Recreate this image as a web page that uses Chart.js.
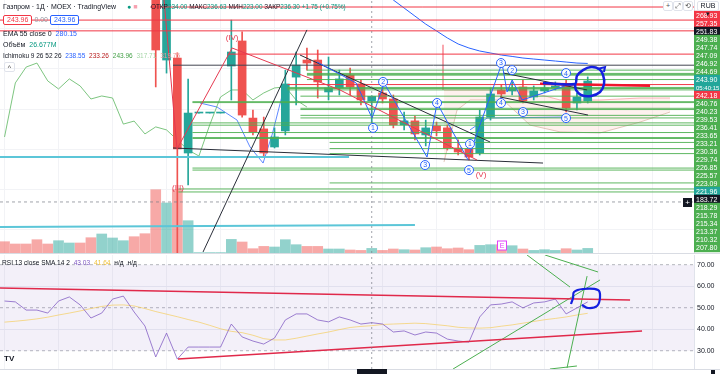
<!DOCTYPE html>
<html lang="ru">
<head>
<meta charset="utf-8">
<title>Газпром 1Д</title>
<script src="https://cdn.jsdelivr.net/npm/chart.js@4.4.1/dist/chart.umd.min.js"></script>
<style>
html,body{margin:0;padding:0;background:#fff;}
#wrap{position:relative;width:720px;height:374px;overflow:hidden;font-family:"Liberation Sans",Arial,sans-serif;color:#131722;}
canvas{position:absolute;left:0;}
#priceCanvas{top:0;}
#rsiCanvas{top:255px;}
#sep{position:absolute;left:0;top:253px;width:720px;height:1px;background:#d9dce3;}
#bottomLine{position:absolute;left:0;top:369px;width:720px;height:1px;background:#d9dce3;}
.row{position:absolute;left:3px;font-size:7px;line-height:9px;white-space:nowrap;}
.row b{font-weight:normal;margin-left:2px;}
.box{display:inline-block;border:1px solid;border-radius:2px;padding:0 3px;line-height:8px;background:#fff;}
.tool{position:absolute;top:1px;height:8px;font-size:7px;line-height:8px;color:#555;border:1px solid #e0e3eb;border-radius:2px;background:#fff;text-align:center;}
</style>
</head>
<body>
<div id="wrap">
  <canvas id="priceCanvas" width="720" height="253"></canvas>
  <div id="sep"></div>
  <canvas id="rsiCanvas" width="720" height="119"></canvas>
  <div id="bottomLine"></div>

  <div class="row" style="top:2px">Газпром · 1Д · MOEX · TradingView</div>
  <div class="row" style="top:2px;left:127px"><span style="color:#089981">●</span> <span style="color:#f7a1b0">■</span></div>
  <div class="row" style="top:2px;left:151px;font-size:6.4px">ОТКР<span style="color:#089981">234.00</span> МАКС<span style="color:#089981">236.63</span> МИН<span style="color:#089981">223.00</span> ЗАКР<span style="color:#089981">236.30 +1.75 (+0.75%)</span></div>
  <div class="row" style="top:15px"><span class="box" style="border-color:#f23645;color:#f23645">243.96</span> <span style="color:#9598a1">0.00</span> <span class="box" style="border-color:#2962ff;color:#2962ff">243.96</span></div>
  <div class="row" style="top:29px">EMA 55 close 0 <b style="color:#2962ff">280.15</b></div>
  <div class="row" style="top:40px">Объём <b style="color:#089981">26.677M</b></div>
  <div class="row" style="top:51px;font-size:6.5px">Ichimoku 9 26 52 26 <b style="color:#2962ff">238.55</b> <b style="color:#b71c1c">233.26</b> <b style="color:#43a047">243.96</b> <b style="color:#a5d6a7">317.71</b> <b style="color:#ef9a9a">319.75</b></div>
  <div class="row" style="top:62px;left:4px;border:1px solid #e0e3eb;border-radius:2px;width:9px;height:8px;line-height:9px;text-align:center;color:#333;">^</div>
  <div class="row" style="top:258px;left:2px;font-size:6.6px">RSI 13 close SMA 14 2 <b style="color:#7e57c2">43.03</b> <b style="color:#f0c23b">41.64</b> <b>н/д</b> <b>н/д</b></div>

  <div class="tool" style="left:663px;width:8px">+</div>
  <div class="tool" style="left:673px;width:8px">⤢</div>
  <div class="tool" style="left:683px;width:8px">⟲</div>
  <div class="tool" style="left:697px;width:20px;color:#131722">RUB ▾</div>
  <div style="position:absolute;left:683px;top:198px;width:9px;height:9px;background:#131722;color:#fff;font-size:8px;line-height:9px;text-align:center;">+</div>
  <div style="position:absolute;left:357px;top:369px;width:30px;height:6px;background:#131722;"></div>
  <div style="position:absolute;left:711px;top:370px;width:4px;height:4px;background:#131722;"></div>
  <div style="position:absolute;left:4px;top:354px;font:bold 8px 'Liberation Sans',Arial;color:#131722;">TV</div>
</div>
<script>
// ---- Газпром, 1Д, MOEX: свечи ----
const opens  = [338,332,327,323,314,310,320,325,317,305, 316,322,327,312,299,254.4,255.4,208.1,228,228,
                228,251.4,263.9,225.5,220.1,211.1,219.1,245.9,254.4,254.4, 238.5,240.5,246.9,242.5,234.0,238.0,235.0,222.1,224.1,217.1,
                221.6,220.6,210.6,210.1,208.1,226.0,239.5,239.0,241.0,236.0, 239.0,240.5,241.5,233.0,234.0];
const highs  = [340,334,330,325,318,322,327,326,319,318, 324,330,328,314,301,300,258.0,244.96,228,228,
                228,274.3,268.4,229.5,226.0,220.6,249.4,258.4,260.4,259.4, 255.9,249.4,250.4,244.5,236.63,240.5,237.0,228.5,226.5,224.5,
                223.5,222.1,214.6,213.1,229.5,240.5,242.0,243.5,244.5,241.5, 242.0,243.5,244.5,238.0,246.0];
const lows   = [330,325,321,312,308,309,318,315,303,300, 314,318,310,296,241.0,247.9,135.5,192.2,228,228,
                228,234.5,226.0,217.1,206.1,210.6,217.1,232.0,249.4,235.5, 234.5,237.0,237.0,232.0,223.0,233.0,220.6,219.6,214.6,211.6,
                216.6,209.6,207.1,204.6,207.1,224.5,236.0,237.0,233.0,234.5, 238.0,239.5,228.5,229.5,233.0];
const closes = [332,327,323,314,310,320,325,317,305,316, 322,327,312,299,259.4,289,210.1,228.0,228,228,
                228,258.4,227.0,218.6,208.1,216.1,242.5,251.9,252.9,243.5, 240.5,245.0,241.0,234.55,236.3,235.0,222.1,224.1,217.6,220.6,
                219.1,210.6,208.6,206.1,226.0,237.5,237.5,240.5,234.0,239.0, 240.5,241.5,230.5,236.0,243.96];
// объём, млн
const volumes = [65.5,52.2,52.2,77.1,52.2,71.3,58,58,88.7,110.2, 87,71.3,94.5,111.9,367,290,367,187.3,2.5,2.5,
                 2.5,78.9,63.8,24.9,38.3,34.8,77.1,48.1,38.3,38.3, 23.2,23.2,17.4,15.1,26.68,15.1,23.2,19.1,17.4,30.7,
                 34.8,24.9,29,19.1,44.1,48.1,48.1,42.3,23.2,15.1, 19.1,15.1,24.9,17.4,26.7];
// RSI 13 и его SMA 14
const rsiValues = [53.1,52.7,48.9,48.9,47.5,53.1,55.0,51.3,45.2,47.5, 54.0,55.4,48.0,41.5,27.1,38.2,26.1,31.7,31.7,31.7,
                   31.7,42.4,36.4,34.5,33.1,35.9,44.3,47.1,47.1,44.3, 43.4,45.7,44.3,42.4,43.03,42.4,38.7,39.2,37.3,38.7,
                   38.2,35.4,34.5,34.0,45.7,51.3,51.7,52.7,49.9,52.2, 52.7,54.0,47.1,49.9,52.7];
const rsiSma = [43.3,43.7,44.2,44.8,45.6,46.6,47.5,48.5,49.6,50.6, 51.2,51.3,50.8,49.6,48.2,47.0,45.8,44.5,43.3,41.8,
                40.2,39.0,38.4,37.2,35.6,35.0,35.0,35.8,36.8,37.8, 38.7,39.8,40.8,41.3,41.64,42.2,42.4,42.6,42.8,42.6,
                42.1,41.6,40.9,40.6,40.5,40.7,41.4,42.0,42.8,43.6, 44.4,45.0,45.7,46.6,47.4];
// Ichimoku: запаздывающая линия (бары 0..28), EMA 55 (бары 35..54)
const chikou = [216.1,243.0,250.9,252.9,244.0,240.0,245.0,241.5,235.0,236.5, 235.5,222.5,224.0,217.6,221.1,219.6,214.6,209.6,206.6,222.1,
                236.0,239.5,239.5,234.5,238.0,240.5,241.0,234.5,231.0];
const emaFrom = 35;
const ema55 = [288.3,284.3,280.3,276.3,272.3,268.9,265.4,262.4,260.4,258.9, 257.9,256.9,256.2,255.4,254.9,254.4,253.9,253.4,252.9,252.7];
const tenkanA = [[18.1,233.0],[19.68,231.0],[21.53,224.5],[22.73,211.1],[23.94,203.1],[24.77,217.1],[25.79,238.5]];
const tenkanB = [[43.1,219.6],[44.68,225.5],[51.71,226.0]];
const cloudX = [40.69,41.9,43.1,46.16,48.66,51.44,55.14,58.84,61.62];
const leadB  = [239.5,239.5,239.5,239.5,238.5,234.5,234.5,235.5,235.5];
const leadA  = [203.6,229.5,234.5,234.5,222.0,218.6,218.1,223.5,228.5];

// ---- шкала справа ----
const priceLabels = ['268.93','257.35','251.83','249.38','247.74','247.09','246.92','244.69','243.90','05:40:15',
                     '242.18','240.76','240.23','239.53','236.41','233.65','233.21','230.36','229.74','226.85',
                     '225.57','223.09','221.96','183.72','218.29','215.78','215.34','213.37','210.32','207.80'];
const priceLabelKind = ['r','r','d','g','g','g','g','g','t','t', 'r','g','g','g','g','g','g','g','g','g', 'g','g','t','d','g','g','g','g','g','g'];
const rsiTicks = [70,60,50,40,30];

// ---- разметка: уровни [цена, от бара], линии [[бар, цена], ...] ----
const greenLevels = [[249.38,28],[247.74,28],[247.09,28],[246.92,28],[244.69,28],[240.76,26.2],[240.23,26.2],[239.53,26.2],
                     [236.41,27.4],[233.65,17.4],[233.21,17.4],[230.36,27.4],[229.74,27.4],[226.85,27.4],[225.57,27.4],
                     [223.09,17.4],[221.96,17.4],[218.29,17.4],[215.78,17.4],[215.34,17.4],[213.37,30.1],[210.32,30.1],
                     [207.80,30.1],[200.6,17.4],[199.6,17.4],[193.2,30.1],[190.2,16.1],[188.7,16.1]];
const redLevels = [[280.8,13.5],[274.3,-0.42],[268.93,-0.42],[257.35,20.7],[242.18,26.2]];
const darkLevels = [[251.83,15.6]];
const cyanLines = [[[-0.42,206.1],[31.9,206.1]], [[-0.42,171.3],[38.0,172.3]]];
const blackLines = [[[18.38,158.8],[28.0,269.4]], [[15.6,210.6],[49.86,203.1]], [[27.36,256.9],[44.95,213.6]],
                    [[46.16,247.95],[53.94,239.5]], [[45.88,236.0],[54.03,227.0]]];
const waveRed = [[14.77,284.3],[15.97,210.1],[21.07,260.4],[31.06,239.5],[43.75,204.6]];
const waveBlue1 = [[28.94,253.4],[32.55,243.0],[34.03,225.5],[35.14,243.0],[39.12,206.1],[40.05,233.0],[42.92,204.6]];
const waveBlue2 = [[43.1,208.1],[46.06,252.9],[46.53,238.5],[47.0,244.5],[47.92,234.5],[51.9,241.5]];
const handRed = [[49.58,242.6],[59.77,241.6]];
const handCircle = [[49.86,243.0],[52.82,242.5],[53.0,246.5],[53.56,249.4],[54.31,250.9],[55.05,249.9],[55.42,246.95],
                    [55.51,242.5],[55.14,238.5],[54.31,236.5],[53.38,237.0],[52.91,239.5],[52.82,242.5]];
const handArrow = [[54.9,249.9],[55.6,250.9],[55.5,248.4]];
const waveCircles = [[34.12,220.6,'1'],[35.05,243.5,'2'],[38.94,202.1,'3'],[40.05,233.0,'4'],[43.01,199.6,'5'],
                     [43.1,212.6,'1'],[45.97,252.9,'3'],[47.0,249.4,'2'],[45.97,233.0,'4'],[48.01,228.5,'3'],
                     [51.99,247.9,'4'],[51.99,225.5,'5']];
const waveRoman = [[16.06,190.7,'(III)'],[21.07,265.4,'(IV)'],[44.12,197.2,'(V)']];
const eventMarks = [[46.06,'E']];
const crossBar = 34, crossPrice = 183.72;

const rsiRedLines = [[[-0.42,59.16],[57.92,53.58]], [[16.06,26.14],[59.03,39.16]]];
const rsiGreenLines = [[[41.53,21.5],[55.14,62.9]], [[52.08,21.95],[53.94,64.7]], [[50.5,21.5],[53.0,22.9]],
                       [[48.38,74.5],[52.36,59.6]], [[50.05,74.5],[54.95,66.6]]];
const rsiCircle = [[52.45,51.72],[52.64,54.51],[52.73,57.3],[53.56,58.7],[54.95,58.23],[55.14,54.98],[54.86,50.79],
                   [54.03,49.86],[53.47,51.26]];

// ---- оформление ----
const xMin = -0.42, xMax = 63.84;
const teal = '#26a69a', red = '#ef5350';
const font = 'Liberation Sans';
const labelBg = {r:'#f23645', g:'#4caf50', d:'#131722', t:'#22a69a'};

const idx = opens.map(function(o, i){ return i; });
const isUp = idx.map(function(i){ return closes[i] >= opens[i]; });

function pts(arr){ return arr.map(function(p){ return {x:p[0], y:p[1]}; }); }
function lineDs(data, color, width, extra){
    return Object.assign({type:'line', data:data, borderColor:color, borderWidth:width, pointRadius:0,
        tension:0, fill:false, yAxisID:'price', order:8}, extra || {});
}

var priceSets = [];
priceSets.push({type:'bar', data: idx.map(function(i){ return {x:i, y:[opens[i], closes[i]]}; }),
    backgroundColor: idx.map(function(i){ return isUp[i] ? teal : red; }),
    barThickness: 8, minBarLength: 1, grouped:false, yAxisID:'price', order:11, clip:0});
priceSets.push({type:'bar', data: idx.map(function(i){ return {x:i, y:[lows[i], highs[i]]}; }),
    backgroundColor: idx.map(function(i){ return isUp[i] ? teal : red; }),
    barThickness: 1, grouped:false, yAxisID:'price', order:12, clip:0});
priceSets.push({type:'bar', data: idx.map(function(i){ return {x:i, y:volumes[i]}; }),
    backgroundColor: idx.map(function(i){ return isUp[i] ? 'rgba(38,166,154,0.5)' : 'rgba(239,83,80,0.5)'; }),
    barThickness: 10, grouped:false, yAxisID:'vol', order:50});

// облако Ichimoku
priceSets.push(lineDs(cloudX.map(function(x, i){ return {x:x, y:leadB[i]}; }), 'rgba(242,54,69,0.35)', 1,
    {order:45, fill:'+1', backgroundColor:'rgba(242,120,90,0.10)'}));
priceSets.push(lineDs(cloudX.map(function(x, i){ return {x:x, y:leadA[i]}; }), 'rgba(180,120,90,0.4)', 1, {order:46}));
priceSets.push(lineDs(pts([[40.6,262.0],[40.6,239.5]]), 'rgba(242,54,69,0.35)', 1, {order:46}));
priceSets.push(lineDs(chikou.map(function(v, i){ return {x:i, y:v}; }), 'rgba(102,187,106,0.85)', 1, {order:40}));
priceSets.push(lineDs(ema55.map(function(v, i){ return {x:emaFrom + i, y:v}; }), '#2962ff', 1, {order:40}));
priceSets.push(lineDs(pts(tenkanA), 'rgba(41,98,255,0.75)', 1, {order:40}));
priceSets.push(lineDs(pts(tenkanB), 'rgba(41,98,255,0.75)', 1, {order:40}));

greenLevels.forEach(function(l){ priceSets.push(lineDs(pts([[l[1], l[0]], [xMax, l[0]]]), 'rgba(76,175,80,0.9)', 1, {order:9})); });
redLevels.forEach(function(l){ priceSets.push(lineDs(pts([[l[1], l[0]], [xMax, l[0]]]), '#f23645', 1, {order:9})); });
darkLevels.forEach(function(l){ priceSets.push(lineDs(pts([[l[1], l[0]], [xMax, l[0]]]), '#434651', 1, {order:9})); });
cyanLines.forEach(function(l){ priceSets.push(lineDs(pts(l), '#5cc6d8', 2, {order:9})); });
blackLines.forEach(function(l){ priceSets.push(lineDs(pts(l), '#2a2e39', 1, {order:7})); });
priceSets.push(lineDs(pts(waveRed), '#e53950', 1, {order:6}));
priceSets.push(lineDs(pts(waveBlue1), '#2962ff', 1, {order:6}));
priceSets.push(lineDs(pts(waveBlue2), '#2962ff', 1, {order:6}));
priceSets.push(lineDs(pts(handRed), '#f0142d', 2.5, {order:3}));
priceSets.push(lineDs(pts(handCircle), '#1420e0', 2.5, {order:2, tension:0.3}));
priceSets.push(lineDs(pts(handArrow), '#1420e0', 2, {order:2}));
priceSets.push(lineDs(pts([[xMin, crossPrice], [xMax, crossPrice]]), 'rgba(120,123,134,0.7)', 1, {order:1, borderDash:[3,3]}));
priceSets.push(lineDs(pts([[crossBar, 158.3], [crossBar, 284.3]]), 'rgba(120,123,134,0.7)', 1, {order:1, borderDash:[2,3]}));

const wavePlugin = {
    id: 'waves',
    afterDatasetsDraw: function(chart){
        var ctx = chart.ctx, x = chart.scales.x, p = chart.scales.price, area = chart.chartArea;
        ctx.save();
        ctx.textAlign = 'center';
        ctx.textBaseline = 'middle';
        waveCircles.forEach(function(w){
            var px = x.getPixelForValue(w[0]), py = p.getPixelForValue(w[1]);
            ctx.beginPath();
            ctx.arc(px, py, 4.5, 0, Math.PI * 2);
            ctx.fillStyle = 'rgba(255,255,255,0.9)';
            ctx.fill();
            ctx.strokeStyle = '#2962ff';
            ctx.lineWidth = 1;
            ctx.stroke();
            ctx.fillStyle = '#2962ff';
            ctx.font = '7px "' + font + '"';
            ctx.fillText(w[2], px, py + 0.5);
        });
        ctx.font = '8px "' + font + '"';
        ctx.fillStyle = '#e53950';
        waveRoman.forEach(function(w){
            ctx.fillText(w[2], x.getPixelForValue(w[0]), p.getPixelForValue(w[1]));
        });
        eventMarks.forEach(function(e){
            var px = x.getPixelForValue(e[0]);
            ctx.fillStyle = '#fff';
            ctx.fillRect(px - 4.5, area.bottom - 12, 9, 9);
            ctx.strokeStyle = '#e040fb';
            ctx.lineWidth = 1;
            ctx.strokeRect(px - 4.5, area.bottom - 12, 9, 9);
            ctx.fillStyle = '#e040fb';
            ctx.font = '7px "' + font + '"';
            ctx.fillText(e[1], px, area.bottom - 7);
        });
        ctx.restore();
    }
};

const gridX = [0,5,10,15,20,25,30,35,40,45,50,55,60];

new Chart(document.getElementById('priceCanvas'), {
    type: 'bar',
    data: { datasets: priceSets },
    plugins: [wavePlugin],
    options: {
        responsive: false, animation: false, events: [],
        layout: { padding: 0 },
        plugins: { legend: {display:false}, tooltip: {enabled:false} },
        scales: {
            x: { type:'linear', min:xMin, max:xMax, offset:false,
                 grid: {color:'#f2f3f6', drawTicks:false, offset:false}, border:{display:false},
                 ticks: {display:false},
                 afterBuildTicks: function(a){ a.ticks = gridX.map(function(v){ return {value:v}; }); } },
            price: { type:'linear', position:'right', min:158.3, max:284.3,
                 grid: {color:'#f2f3f6', drawTicks:false}, border:{display:false}, ticks:{display:false},
                 afterBuildTicks: function(a){ a.ticks = [170,190,210,230,250,270].map(function(v){ return {value:v}; }); },
                 afterFit: function(s){ s.width = 0; s.paddingTop = 0; s.paddingBottom = 0; } },
            vol: { type:'linear', display:false, min:0, max:1467 },
            lab: { type:'linear', position:'right', min:-2, max:29.625, reverse:true,
                 grid: {display:false, drawTicks:false}, border: {display:true, color:'#e0e3eb'},
                 ticks: { autoSkip:false, padding:2, color:'#ffffff',
                          font: function(c){ return {size: priceLabels[c.index] && priceLabels[c.index].length > 6 ? 6 : 7, family: font}; },
                          showLabelBackdrop:true,
                          backdropColor: function(c){ return labelBg[priceLabelKind[c.index]]; },
                          backdropPadding: {left:2, right:4, top:1, bottom:0},
                          callback: function(v){ return priceLabels[v]; } },
                 afterBuildTicks: function(a){ a.ticks = priceLabels.map(function(t, i){ return {value:i}; }); },
                 afterFit: function(s){ s.width = 26; s.paddingTop = 0; s.paddingBottom = 0; } }
        }
    }
});

// ---- RSI ----
function rsiLine(data, color, width, extra){
    return Object.assign({data:data, borderColor:color, borderWidth:width, pointRadius:0, tension:0, fill:false}, extra || {});
}
var rsiSets = [];
rsiSets.push(rsiLine(rsiValues.map(function(v, i){ return {x:i, y:v}; }), 'rgba(126,87,194,0.75)', 1, {order:5}));
rsiSets.push(rsiLine(rsiSma.map(function(v, i){ return {x:i, y:v}; }), 'rgba(245,200,70,0.6)', 1, {order:6}));
rsiSets.push(rsiLine(pts([[xMin,70],[xMax,70]]), 'rgba(120,123,134,0.55)', 1,
    {order:20, borderDash:[3,3], fill:'+1', backgroundColor:'rgba(126,87,194,0.09)'}));
rsiSets.push(rsiLine(pts([[xMin,30],[xMax,30]]), 'rgba(120,123,134,0.55)', 1, {order:20, borderDash:[3,3]}));
rsiSets.push(rsiLine(pts([[xMin,50],[xMax,50]]), 'rgba(120,123,134,0.55)', 1, {order:20, borderDash:[3,3]}));
rsiRedLines.forEach(function(l){ rsiSets.push(rsiLine(pts(l), '#e0294a', 1.3, {order:4})); });
rsiGreenLines.forEach(function(l){ rsiSets.push(rsiLine(pts(l), '#4caf50', 1, {order:4})); });
rsiSets.push(rsiLine(pts(rsiCircle), '#1420e0', 2.2, {order:2, tension:0.35}));
rsiSets.push(rsiLine(pts([[crossBar,21.5],[crossBar,74.5]]), 'rgba(120,123,134,0.7)', 1, {order:1, borderDash:[2,3]}));

new Chart(document.getElementById('rsiCanvas'), {
    type: 'line',
    data: { datasets: rsiSets },
    options: {
        responsive: false, animation: false, events: [],
        layout: { padding: {bottom:5} },
        plugins: { legend: {display:false}, tooltip: {enabled:false} },
        scales: {
            x: { type:'linear', min:xMin, max:xMax, offset:false,
                 grid: {color:'#f2f3f6', drawTicks:false}, border:{display:false}, ticks:{display:false},
                 afterBuildTicks: function(a){ a.ticks = gridX.map(function(v){ return {value:v}; }); } },
            y: { type:'linear', position:'right', min:21.5, max:74.5,
                 grid: { drawTicks:false, color: function(c){ return c.tick && (c.tick.value === 60 || c.tick.value === 40) ? '#eceef3' : 'rgba(0,0,0,0)'; } },
                 border: {color:'#e0e3eb'},
                 ticks: { autoSkip:false, padding:3, color:'#131722', font:{size:7, family:font},
                          callback: function(v){ return v.toFixed(2); } },
                 afterBuildTicks: function(a){ a.ticks = rsiTicks.map(function(v){ return {value:v}; }); },
                 afterFit: function(s){ s.width = 26; s.paddingTop = 0; s.paddingBottom = 0; } }
        }
    }
});
</script>
</body>
</html>
